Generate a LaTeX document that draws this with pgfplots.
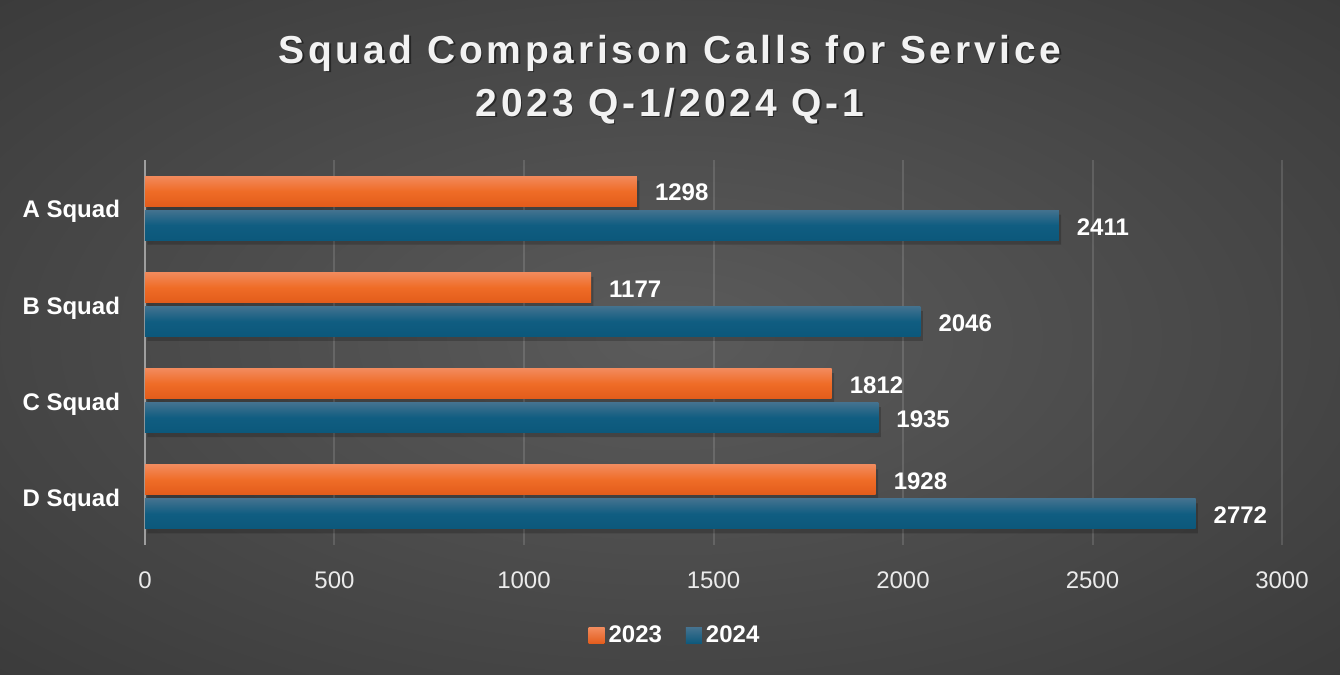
\documentclass[border=0pt]{standalone}
\usepackage{fontspec}
\setmainfont{Liberation Sans}
\newfontfamily\titlefont[LetterSpace=9.6]{Liberation Sans}
\usepackage{pgfplots}
\pgfplotsset{compat=1.18}
\definecolor{bgc}{HTML}{5B5B5B}
\definecolor{bgm}{HTML}{2E2E2E}
\definecolor{bgo}{HTML}{242424}
\definecolor{orL}{HTML}{F28A5C}
\definecolor{orM}{HTML}{EF6C27}
\definecolor{orD}{HTML}{E35C1B}
\definecolor{blL}{HTML}{43728F}
\definecolor{blM}{HTML}{105D81}
\definecolor{blD}{HTML}{0C587B}
\pgfdeclareradialshading{bgshade}{\pgfpoint{0bp}{0bp}}{color(0bp)=(bgc); color(50bp)=(bgm); color(71bp)=(bgo)}
\pgfplotsset{
  orbar/.style={draw=none, top color=orL, bottom color=orD, middle color=orM, bar shift=8.5pt},
  blbar/.style={draw=none, top color=blL, bottom color=blD, middle color=blM, bar shift=-8.5pt},
  shad/.style={draw=none, fill=black, opacity=0.2, nodes near coords={}, forget plot, xshift=1.2pt},
}
\begin{document}
\begin{tikzpicture}
\useasboundingbox (0,0) rectangle (670pt,337.5pt);
\shade[shading=bgshade] (0,0) rectangle (670pt,337.5pt);
\node[text=black, opacity=0.45, font=\titlefont\bfseries\fontsize{19.5}{22}\selectfont] at (335.8pt,310.2pt) {Squad Comparison Calls for Service};
\node[text=black, opacity=0.45, font=\titlefont\bfseries\fontsize{19.5}{22}\selectfont] at (335.8pt,283.7pt) {2023 Q-1/2024 Q-1};
\node[text=white!95!black, font=\titlefont\bfseries\fontsize{19.5}{22}\selectfont] at (335pt,311pt) {Squad Comparison Calls for Service};
\node[text=white!95!black, font=\titlefont\bfseries\fontsize{19.5}{22}\selectfont] at (335pt,284.5pt) {2023 Q-1/2024 Q-1};
\begin{axis}[
  at={(72.5pt,65pt)}, anchor=south west,
  width=568.5pt, height=192.5pt, scale only axis,
  xbar, bar width=15pt,
  xmin=0, xmax=3000, ymin=-0.5, ymax=3.5,
  xtick={0,500,1000,1500,2000,2500,3000},
  ytick={0,1,2,3},
  yticklabels={D Squad,C Squad,B Squad,A Squad},
  xmajorgrids,
  major grid style={white, opacity=0.13, line width=1pt},
  major tick length=0pt,
  axis lines=left,
  axis line style={-},
  x axis line style={draw=none},
  y axis line style={draw=white!62!black, line width=1.2pt},
  /pgf/number format/assume math mode=true,
  /pgf/number format/1000 sep={},
  xticklabel style={text=white!92!black, font=\fontsize{12}{14}\selectfont},
  xticklabel shift=10pt,
  yticklabel style={text=white, font=\bfseries\fontsize{12}{14}\selectfont, yshift=-1.8pt},
  yticklabel shift=9pt,
  nodes near coords,
  nodes near coords align={horizontal},
  every node near coord/.append style={text=white, font=\bfseries\fontsize{12}{14}\selectfont, xshift=5.5pt, yshift=-0.8pt},
  legend style={at={(0.467,-0.236)}, anchor=center, draw=none, fill=none, text=white,
    font=\bfseries\fontsize{12}{14}\selectfont,
    /tikz/every even column/.append style={column sep=10pt}},
  legend columns=2,
]
% shadows
\addplot[shad, bar shift=6.3pt] coordinates {(1298,3) (1177,2) (1812,1) (1928,0)};
\addplot[shad, bar shift=-10.7pt] coordinates {(2411,3) (2046,2) (1935,1) (2772,0)};
% 2023
\addplot[orbar, legend image code/.code={\fill[top color=orL, bottom color=orD] (0pt,-4pt) rectangle (8pt,4pt);}]
  coordinates {(1298,3)};
\addplot[orbar, forget plot] coordinates {(1177,2)};
\addplot[orbar, forget plot] coordinates {(1812,1)};
\addplot[orbar, forget plot] coordinates {(1928,0)};
% 2024
\addplot[blbar, legend image code/.code={\fill[top color=blL, bottom color=blD] (0pt,-4pt) rectangle (8pt,4pt);}]
  coordinates {(2411,3)};
\addplot[blbar, forget plot] coordinates {(2046,2)};
\addplot[blbar, forget plot] coordinates {(1935,1)};
\addplot[blbar, forget plot] coordinates {(2772,0)};
\legend{2023,2024}
\end{axis}
\end{tikzpicture}
\end{document}
